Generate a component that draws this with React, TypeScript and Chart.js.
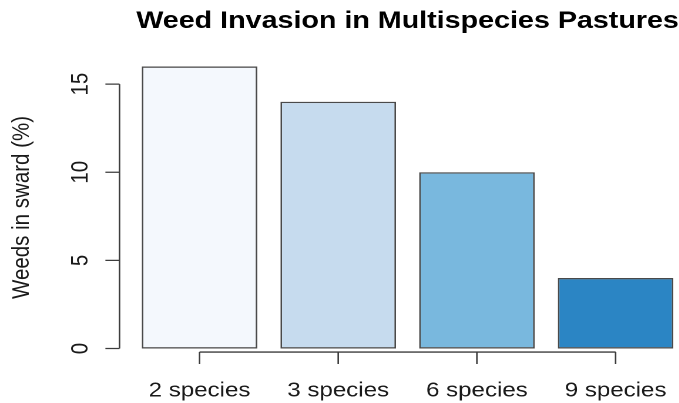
import React, { useEffect, useRef } from "react";
import { Chart, registerables } from "chart.js";

Chart.register(...registerables);

// ---- data ----
const TITLE = "Weed Invasion in Multispecies Pastures";
const Y_TITLE = "Weeds in sward (%)";
const CATEGORIES = ["2 species", "3 species", "6 species", "9 species"];
const VALUES = [16, 14, 10, 4];
const Y_TICKS = [0, 5, 10, 15];
const BAR_COLORS = ["#F4F8FD", "#C6DBEE", "#79B8DE", "#2B85C4"];

// ---- styling ----
const STRETCH = 1.175; // horizontal stretch of the reference rendering
const LOGICAL_W = 592;
const H = 403;
const FONT = "'Liberation Sans', Arial, Helvetica, sans-serif";
const AXIS_COLOR = "#3c3c3c";
const TEXT_COLOR = "#1a1a1a";
const TICK_LEN = 12;
const X_AXIS_AT = -0.2;

const axisPlugin = {
  id: "rAxes",
  afterDatasetsDraw(chart: any) {
    const { ctx, chartArea } = chart;
    const x = chart.scales.x;
    const y = chart.scales.y;
    ctx.save();
    ctx.strokeStyle = AXIS_COLOR;
    ctx.lineWidth = 1.3;
    ctx.beginPath();
    // y axis
    const xl = chartArea.left;
    ctx.moveTo(xl, y.getPixelForValue(Y_TICKS[0]));
    ctx.lineTo(xl, y.getPixelForValue(Y_TICKS[Y_TICKS.length - 1]));
    for (const v of Y_TICKS) {
      const py = y.getPixelForValue(v);
      ctx.moveTo(xl - TICK_LEN, py);
      ctx.lineTo(xl, py);
    }
    // x axis
    const yb = y.getPixelForValue(X_AXIS_AT);
    ctx.moveTo(x.getPixelForValue(0), yb);
    ctx.lineTo(x.getPixelForValue(CATEGORIES.length - 1), yb);
    CATEGORIES.forEach((_, i) => {
      const px = x.getPixelForValue(i);
      ctx.moveTo(px, yb);
      ctx.lineTo(px, yb + TICK_LEN);
    });
    ctx.stroke();
    ctx.restore();
  },
};

export default function App() {
  const ref = useRef<HTMLCanvasElement | null>(null);

  useEffect(() => {
    if (!ref.current) return;
    const chart = new Chart(ref.current, {
      type: "bar",
      data: {
        datasets: [
          {
            data: VALUES.map((v, i) => ({ x: i, y: v })),
            backgroundColor: BAR_COLORS,
            borderColor: "#4a4a4a",
            borderWidth: 1.4,
            borderSkipped: false,
            barPercentage: 1 / 1.2,
            categoryPercentage: 1,
          } as any,
        ],
      },
      options: {
        animation: false,
        responsive: false,
        devicePixelRatio: 2,
        layout: { padding: 0, autoPadding: false } as any,
        events: [],
        plugins: {
          legend: { display: false },
          tooltip: { enabled: false },
          title: {
            display: true,
            text: TITLE,
            fullSize: false,
            color: "#000",
            font: { family: FONT, size: 24.4, weight: "bold", lineHeight: 1.2 },
            padding: { top: 6.8, bottom: 19.1 },
          },
        },
        scales: {
          x: {
            type: "linear",
            offset: false,
            min: -0.577,
            max: 3.577,
            afterBuildTicks: (scale: any) => {
              scale.ticks = CATEGORIES.map((_, i) => ({ value: i }));
            },
            afterFit: (scale: any) => {
              scale.height = 43.2;
            },
            grid: { display: false, drawTicks: false, offset: false },
            border: { display: false },
            ticks: {
              autoSkip: false,
              maxRotation: 0,
              minRotation: 0,
              padding: 18.5,
              color: TEXT_COLOR,
              font: { family: FONT, size: 20.5 },
              callback: (v: any) => CATEGORIES[v as number] ?? "",
            },
          },
          y: {
            type: "linear",
            min: -0.64,
            max: 16.64,
            afterBuildTicks: (scale: any) => {
              scale.ticks = Y_TICKS.map((v) => ({ value: v }));
            },
            afterFit: (scale: any) => {
              scale.width = 101.7;
            },
            grid: { display: false, drawTicks: false },
            border: { display: false },
            ticks: {
              minRotation: 90,
              maxRotation: 90,
              crossAlign: "center",
              padding: 21.5,
              color: TEXT_COLOR,
              font: { family: FONT, size: 20.5 },
            },
            title: {
              display: true,
              text: Y_TITLE,
              color: TEXT_COLOR,
              font: { family: FONT, size: 20.5, lineHeight: 1.2 },
              padding: { top: 6.5, bottom: 0 },
            },
          },
        },
      } as any,
      plugins: [axisPlugin],
    });
    return () => chart.destroy();
  }, []);

  return (
    <div
      style={{
        position: "fixed",
        left: 0,
        top: 0,
        width: 679,
        height: H,
        overflow: "hidden",
        background: "#fff",
      }}
    >
      <div
        style={{
          width: LOGICAL_W,
          height: H,
          transform: `scaleX(${STRETCH})`,
          transformOrigin: "0 0",
        }}
      >
        <canvas
          ref={ref}
          width={LOGICAL_W}
          height={H}
          style={{ width: LOGICAL_W, height: H, display: "block" }}
        />
      </div>
    </div>
  );
}
